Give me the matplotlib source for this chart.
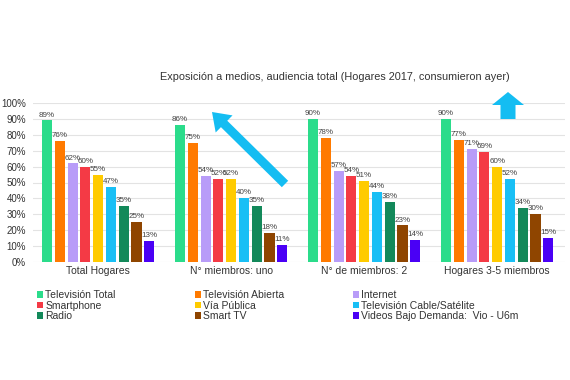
import matplotlib
matplotlib.use("Agg")
import matplotlib.pyplot as plt
from matplotlib.patches import FancyArrow, Patch
import numpy as np

plt.rcParams['font.family'] = ['Liberation Sans', 'DejaVu Sans']

title = "Exposición a medios, audiencia total (Hogares 2017, consumieron ayer)"
groups = ["Total Hogares", "N° miembros: uno", "N° de miembros: 2", "Hogares 3-5 miembros"]
series = ["Televisión Total", "Televisión Abierta", "Internet", "Smartphone", "Vía Pública",
          "Televisión Cable/Satélite", "Radio", "Smart TV", "Videos Bajo Demanda:  Vio - U6m"]
colors = ["#2bdc8b", "#ff7a00", "#b89cf8", "#f43a45", "#ffcb00", "#19bff5", "#13895a", "#8f4500", "#4a00f5"]
tv_total   = [89, 86, 90, 90]
tv_abierta = [76, 75, 78, 77]
internet   = [62, 54, 57, 71]
smartphone = [60, 52, 54, 69]
via_publica = [55, 52, 51, 60]
tv_cable   = [47, 40, 44, 52]
radio      = [35, 35, 38, 34]
smart_tv   = [25, 18, 23, 30]
videos     = [13, 11, 14, 15]
values = [tv_total, tv_abierta, internet, smartphone, via_publica, tv_cable, radio, smart_tv, videos]

W, H = 570, 380
fig = plt.figure(figsize=(5.7, 3.8), dpi=100)
ax = fig.add_axes([33 / W, 1 - 262 / H, (565 - 33) / W, (262 - 103) / H])

x = np.arange(len(groups))
slot = 0.096
bw = 0.076
for i, (name, vals, c) in enumerate(zip(series, values, colors)):
    xs = x + (i - 4) * slot
    ax.bar(xs, vals, width=bw, color=c, label=name, zorder=3)
    for xx, v in zip(xs, vals):
        ax.text(xx, v + 1.2, f"{v}%", ha='center', va='bottom', fontsize=5.8, color='#444444', zorder=4)

ax.set_ylim(0, 100)
ax.set_xlim(-0.49, 3.51)
ax.set_yticks(np.arange(0, 101, 10))
ax.set_yticklabels([f"{t}%" for t in range(0, 101, 10)], fontsize=7, color='#333333')
ax.set_xticks(x)
ax.set_xticklabels(groups, fontsize=7.5, color='#333333')
ax.tick_params(axis='x', length=0, pad=3)
ax.tick_params(axis='y', length=0, pad=5)
ax.grid(axis='y', color='#e3e3e3', linewidth=0.8, zorder=0)
for s in ax.spines.values():
    s.set_visible(False)

fig.text(335 / W, 1 - 77 / H, title, ha='center', va='center', fontsize=7.8, color='#333333')

# legend in 3 columns (row-major order)
handles = [Patch(facecolor=c, edgecolor='none') for c in colors]
col_x = [37 / W, 195 / W, 353 / W]
for col in range(3):
    idx = [col, col + 3, col + 6]
    leg = fig.legend([handles[k] for k in idx], [series[k] for k in idx],
                     loc='upper left', bbox_to_anchor=(col_x[col], 1 - 290 / H),
                     frameon=False, fontsize=7.5, handlelength=0.6, handleheight=0.6,
                     handletextpad=0.2, labelspacing=0.05, borderaxespad=0, borderpad=0)
    for t in leg.get_texts():
        t.set_color('#333333')

# decorative arrows
ov = fig.add_axes([0, 0, 1, 1], zorder=5)
ov.set_xlim(0, W)
ov.set_ylim(H, 0)
ov.axis('off')
acol = '#14bdf2'
ov.add_patch(FancyArrow(285, 184, 212 - 285, 112 - 184, width=9, head_width=24,
                        head_length=17, length_includes_head=True, color=acol, lw=0))
ov.add_patch(FancyArrow(508, 119, 0, 92 - 119, width=15, head_width=32,
                        head_length=13, length_includes_head=True, color=acol, lw=0))

fig.savefig("out.png", dpi=100)
